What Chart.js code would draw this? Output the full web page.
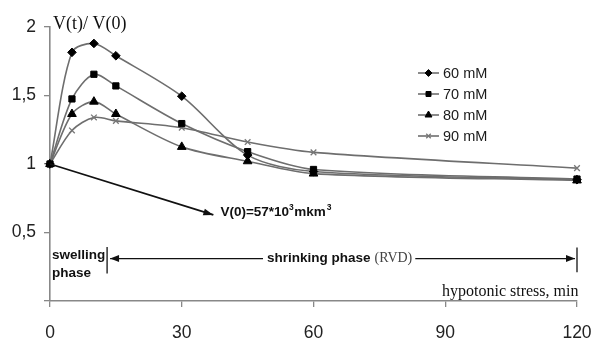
<!DOCTYPE html>
<html>
<head>
<meta charset="utf-8">
<script src="https://cdn.jsdelivr.net/npm/chart.js@4/dist/chart.umd.min.js"></script>
<style>
html,body{margin:0;padding:0;background:#fff;}
#wrap{width:592px;height:341px;position:relative;}
</style>
</head>
<body>
<div id="wrap"><canvas id="c" width="592" height="341"></canvas></div>
<script>
// Data
const minutes = [0, 5, 10, 15, 30, 45, 60, 120];
const v60 = [1, 1.815, 1.88, 1.79, 1.495, 1.065, 0.945, 0.885];
const v70 = [1, 1.475, 1.655, 1.57, 1.295, 1.09, 0.96, 0.89];
const v80 = [1, 1.365, 1.455, 1.365, 1.125, 1.02, 0.93, 0.88];
const v90 = [1, 1.245, 1.34, 1.315, 1.265, 1.16, 1.085, 0.97];
const seriesLabels = ['60 mM', '70 mM', '80 mM', '90 mM'];
const xTicks = [0, 30, 60, 90, 120];
const yTicks = [0, 0.5, 1, 1.5, 2];

const SANS = "Arial, 'Liberation Sans', sans-serif";
const SERIF = "'Times New Roman', 'Liberation Serif', serif";
const LINE = '#6e6e6e';

function pts(vals){ return minutes.map((m,i)=>({x:m, y:vals[i]})); }
const styles = [
  {pointStyle:'rectRot', pointRadius:4.3},
  {pointStyle:'rect', pointRadius:4.4},
  {pointStyle:'triangle', pointRadius:5},
  {pointStyle:'crossRot', pointRadius:4}
];
const allVals = [v60, v70, v80, v90];
const datasets = allVals.map((v,i)=>({
  label: seriesLabels[i],
  data: pts(v),
  borderColor: LINE,
  borderWidth: 1.6,
  tension: 0.3,
  pointStyle: styles[i].pointStyle,
  pointRadius: styles[i].pointRadius,
  pointBackgroundColor: i===3 ? '#777' : '#000',
  pointBorderColor: i===3 ? '#777' : '#000',
  pointBorderWidth: i===3 ? 1.3 : 1,
  clip: false
}));

function arrow(ctx, x1, y1, x2, y2, head){
  ctx.beginPath(); ctx.moveTo(x1,y1); ctx.lineTo(x2,y2); ctx.stroke();
  const a = Math.atan2(y2-y1, x2-x1);
  const hl = head || 9, hw = 3.5;
  ctx.beginPath();
  ctx.moveTo(x2,y2);
  ctx.lineTo(x2 - hl*Math.cos(a) + hw*Math.sin(a), y2 - hl*Math.sin(a) - hw*Math.cos(a));
  ctx.lineTo(x2 - hl*Math.cos(a) - hw*Math.sin(a), y2 - hl*Math.sin(a) + hw*Math.cos(a));
  ctx.closePath(); ctx.fill();
}

const annot = {
  id: 'annot',
  afterDraw(chart){
    const ctx = chart.ctx, xs = chart.scales.x, ys = chart.scales.y;
    const X = v=>xs.getPixelForValue(v), Y = v=>ys.getPixelForValue(v);
    ctx.save();
    ctx.fillStyle = '#111'; ctx.strokeStyle = '#111';
    // y axis title
    ctx.font = '18px ' + SERIF; ctx.textBaseline = 'middle'; ctx.textAlign = 'left';
    ctx.fillText('V(t)/ V(0)', 53, 24);
    // x axis title
    ctx.font = '16px ' + SERIF;
    ctx.fillText('hypotonic stress, min', 442, 292);
    // V(0) arrow
    ctx.lineWidth = 1.8;
    arrow(ctx, X(0), Y(1), X(37.2), Y(0.628), 10);
    ctx.font = 'bold 13.5px ' + SANS;
    let tx = X(38.8), ty = Y(0.645);
    const s1 = 'V(0)=57*10';
    ctx.fillText(s1, tx, ty); tx += ctx.measureText(s1).width;
    ctx.font = 'bold 8.5px ' + SANS; ctx.fillText('3', tx, ty-5); tx += ctx.measureText('3').width + 0.5;
    ctx.font = 'bold 13.5px ' + SANS; ctx.fillText('mkm', tx, ty); tx += ctx.measureText('mkm').width + 1;
    ctx.font = 'bold 8.5px ' + SANS; ctx.fillText('3', tx, ty-5);
    // phases
    ctx.font = 'bold 13.5px ' + SANS;
    ctx.fillText('swelling', 52, 255);
    ctx.fillText('phase', 52, 273);
    ctx.lineWidth = 1.3;
    const xb = X(13), ar = Y(0.31);
    ctx.beginPath(); ctx.moveTo(xb, Y(0.395)); ctx.lineTo(xb, Y(0.2)); ctx.stroke();
    const xe = X(120);
    ctx.beginPath(); ctx.moveTo(xe, Y(0.39)); ctx.lineTo(xe, Y(0.21)); ctx.stroke();
    arrow(ctx, 263, ar, xb + 3, ar, 9);
    ctx.fillText('shrinking phase', 267, ar);
    let sw = ctx.measureText('shrinking phase').width;
    ctx.font = '14px ' + SERIF; ctx.fillStyle = '#444';
    ctx.fillText('(RVD)', 267 + sw + 4, ar);
    let rw = ctx.measureText('(RVD)').width;
    ctx.fillStyle = '#111';
    arrow(ctx, 267 + sw + 4 + rw + 3, ar, xe - 2, ar, 9);
    // legend
    const rows = [73, 94, 115, 136];
    chart.data.datasets.forEach((ds, i)=>{
      const y = rows[i];
      ctx.strokeStyle = LINE; ctx.lineWidth = 1.6;
      ctx.beginPath(); ctx.moveTo(418, y); ctx.lineTo(439, y); ctx.stroke();
      ctx.fillStyle = ds.pointBackgroundColor; ctx.strokeStyle = ds.pointBorderColor;
      ctx.lineWidth = ds.pointBorderWidth;
      Chart.helpers.drawPoint(ctx, {pointStyle: ds.pointStyle, radius: ds.pointRadius*0.8, rotation: 0, borderWidth: ds.pointBorderWidth}, 428.5, y);
      ctx.fillStyle = '#1a1a1a'; ctx.font = '14.5px ' + SANS; ctx.textAlign = 'left'; ctx.textBaseline = 'middle';
      ctx.fillText(ds.label, 443, y + 0.5);
    });
    ctx.restore();
  }
};

new Chart(document.getElementById('c'), {
  type: 'line',
  data: { datasets },
  options: {
    responsive: false,
    animation: false,
    layout: { padding: { left: 0, top: 27, right: 15, bottom: 0 } },
    plugins: { legend: { display: false }, tooltip: { enabled: false } },
    scales: {
      x: {
        type: 'linear', min: 0, max: 120,
        afterBuildTicks: s => { s.ticks = xTicks.map(v=>({value:v})); },
        afterFit: s => { s.height = 40; s.paddingLeft = 0; s.paddingRight = 0; },
        grid: { drawOnChartArea: false, drawTicks: true, tickLength: 6, color: '#888', lineWidth: 1.3 },
        border: { display: true, color: '#888', width: 1.6 },
        ticks: { color: '#222', font: { family: SANS, size: 17.5 }, padding: 16, maxRotation: 0 }
      },
      y: {
        min: 0, max: 2,
        afterBuildTicks: s => { s.ticks = yTicks.map(v=>({value:v})); },
        afterFit: s => { s.width = 50; s.paddingTop = 0; s.paddingBottom = 0; },
        grid: { drawOnChartArea: false, drawTicks: true, tickLength: 6, color: '#888', lineWidth: 1.3 },
        border: { display: true, color: '#888', width: 1.6 },
        ticks: { color: '#222', font: { family: SANS, size: 17.5 }, padding: 8,
          callback: v => v === 0 ? '' : String(v).replace('.', ',') }
      }
    }
  },
  plugins: [annot]
});
</script>
</body>
</html>
